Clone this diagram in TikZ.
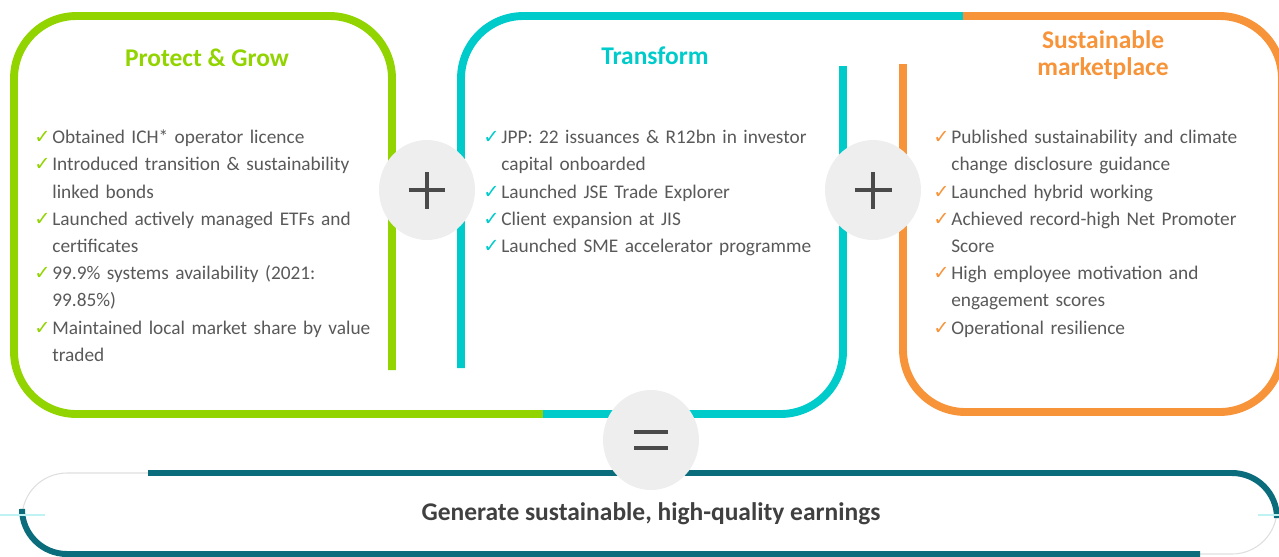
\documentclass[tikz,border=0pt]{standalone}
\usepackage{fontspec}
\setmainfont{Carlito}
\newfontfamily\symfont{DejaVu Sans}
\usetikzlibrary{shapes.geometric}
\definecolor{grn}{HTML}{92D400}
\definecolor{tea}{HTML}{00CBCB}
\definecolor{org}{HTML}{F7943A}
\definecolor{dtea}{HTML}{0B6C7C}
\definecolor{txt}{HTML}{595959}
\definecolor{ink}{HTML}{404040}
\definecolor{disc}{HTML}{EEEEEE}
\definecolor{sgn}{HTML}{4A4A4A}
\newlength\chkw \setlength\chkw{0.36cm}
\newcommand\chk[2]{\par\hangindent=\chkw\hangafter=1\noindent\hbox to\chkw{\textcolor{#1}{\symfont\fontsize{11}{11}\selectfont ✓}\hfil}#2\par}

\begin{document}
\begin{tikzpicture}[x=0.02cm,y=-0.02cm,
    frame/.style={line width=4.5pt,rounded corners=1.25cm},
    base/.style={line width=3.4pt,rounded corners=0.9cm},
    head/.style={font=\bfseries\fontsize{14.5}{15.5}\selectfont,align=center},
    items/.style={anchor=north west,inner sep=0pt,text width=8cm,align=left,text=txt,font=\fontsize{11}{15.5}\selectfont},
    sdisc/.style={ellipse,fill=disc,minimum width=1.92cm,minimum height=2cm,inner sep=0pt},
    sign/.style={draw=sgn,line width=2.3pt}]
  \useasboundingbox (0,0) rectangle (1279,556);
  \draw[frame,grn] (392,370) -- (392,16) -- (14,16) -- (14,414) -- (543,414);
  \draw[frame,tea] (461,368) -- (461,16) -- (963,16);
  \draw[frame,tea] (843,66) -- (843,414) -- (543,414);
  \draw[frame,org] (963,16) -- (1282,16) -- (1282,412) -- (903,412) -- (903,64);
  \draw[black!13,line width=0.6pt,rounded corners=0.9cm] (22,473) rectangle (1277,554);
  \draw[base,dtea] (148,473) -- (1277,473) -- (1277,515);
  \draw[base,dtea] (22,515) -- (22,554) -- (1200,554);
  \draw[tea!25,line width=0.6pt] (0,515) -- (45,515) (1258,515) -- (1279,515);
  \node[sdisc] (plusA) at (427,190) {};
  \node[sdisc] (plusB) at (873,190) {};
  \node[sdisc] (eq) at (651,440) {};
  \foreach \p in {plusA,plusB} {
    \draw[sign] ([xshift=-0.37cm]\p.center) -- ([xshift=0.37cm]\p.center);
    \draw[sign] ([yshift=-0.37cm]\p.center) -- ([yshift=0.37cm]\p.center);
  }
  \draw[sign,line width=2.8pt] ([xshift=-0.34cm,yshift=0.16cm]eq.center) -- ([xshift=0.34cm,yshift=0.16cm]eq.center);
  \draw[sign,line width=2.8pt] ([xshift=-0.34cm,yshift=-0.16cm]eq.center) -- ([xshift=0.34cm,yshift=-0.16cm]eq.center);
  \node[head,text=grn] (pgT) at (207,58) {Protect \& Grow};
  \node[head,text=tea] (trT) at (655,56) {Transform};
  \node[head,text=org] (smT) at (1103,55) {Sustainable\\marketplace};
  \node[items] (pgL) at (34,116) {\chk{grn}{Obtained ICH* operator licence}
    \chk{grn}{Introduced transition \& sustainability\newline linked bonds}
    \chk{grn}{Launched actively managed ETFs and\newline certificates}
    \chk{grn}{99.9\% systems availability (2021:\newline 99.85\%)}
    \chk{grn}{Maintained local market share by value\newline traded}};
  \node[items] (trL) at (483,116) {\chk{tea}{JPP: 22 issuances \& R12bn in investor\newline capital onboarded}
    \chk{tea}{Launched JSE Trade Explorer}
    \chk{tea}{Client expansion at JIS}
    \chk{tea}{Launched SME accelerator programme}};
  \node[items] (smL) at (933,116) {\chk{org}{Published sustainability and climate\newline change disclosure guidance}
    \chk{org}{Launched hybrid working}
    \chk{org}{Achieved record-high Net Promoter\newline Score}
    \chk{org}{High employee motivation and\newline engagement scores}
    \chk{org}{Operational resilience}};
  \node[font=\bfseries\fontsize{14.5}{16}\selectfont,text=ink] (goal) at (651,514) {Generate sustainable, high-quality earnings};
\end{tikzpicture}
\end{document}
